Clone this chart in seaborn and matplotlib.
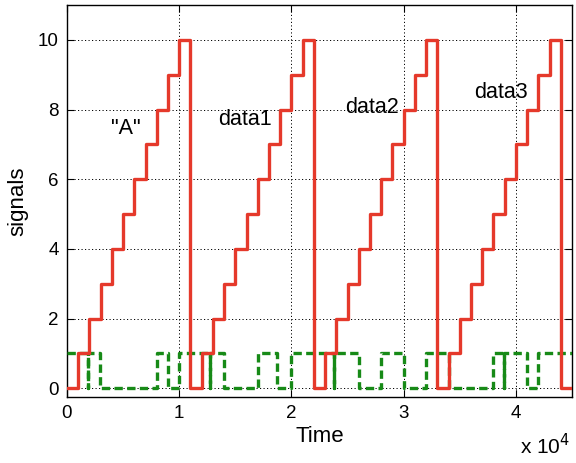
import matplotlib
matplotlib.use("Agg")
import matplotlib.pyplot as plt
import seaborn as sns
import pandas as pd
from matplotlib.ticker import FuncFormatter

# ---- data ----
red_times = [0, 1000, 2000, 3000, 4000, 5000, 6000, 7000, 8000, 9000, 10000,
             11000, 12000, 13000, 14000, 15000, 16000, 17000, 18000, 19000, 20000, 21000,
             22000, 23000, 24000, 25000, 26000, 27000, 28000, 29000, 30000, 31000, 32000,
             33000, 34000, 35000, 36000, 37000, 38000, 39000, 40000, 41000, 42000, 43000,
             44000, 45000]
red_values = [0, 1, 2, 3, 4, 5, 6, 7, 8, 9, 10,
              0, 1, 2, 3, 4, 5, 6, 7, 8, 9, 10,
              0, 1, 2, 3, 4, 5, 6, 7, 8, 9, 10,
              0, 1, 2, 3, 4, 5, 6, 7, 8, 9, 10,
              0, 0]

green_times = [0, 1880, 1880, 2900, 8000, 9000, 10000, 12700, 12700, 14000,
               17000, 18700, 20000, 23750, 23750, 26000, 28000, 30000, 32000,
               34000, 38000, 38900, 38900, 41000, 42000, 45000]
green_values = [1, 0, 1, 0, 1, 0, 1, 0, 1, 0,
                1, 0, 1, 0, 1, 0, 1, 0, 1,
                0, 1, 0, 1, 0, 1, 1]

labels = ['"A"', 'data1', 'data2', 'data3']
label_x = [5200, 15900, 27200, 38650]
label_y = [7.45, 7.7, 8.05, 8.5]

xticks = [0, 10000, 20000, 30000, 40000]
yticks = [0, 2, 4, 6, 8, 10]

# ---- style ----
sns.set_theme(style="white")
plt.rcParams['font.family'] = ['Liberation Sans', 'DejaVu Sans']

red_col = '#E5392B'
green_col = '#178A17'

fig = plt.figure(figsize=(5.76, 4.63), dpi=100)
ax = fig.add_axes([67/576, 1-397/463, (572-67)/576, (397-5)/463])

red_df = pd.DataFrame({'t': red_times, 'v': red_values})
green_df = pd.DataFrame({'t': green_times, 'v': green_values})

sns.lineplot(data=green_df, x='t', y='v', ax=ax, estimator=None, sort=False,
             drawstyle='steps-post', color=green_col, lw=2.4,
             linestyle=(0, (2.5, 1.3)), zorder=3)
sns.lineplot(data=red_df, x='t', y='v', ax=ax, estimator=None, sort=False,
             drawstyle='steps-post', color=red_col, lw=2.4, zorder=4)

ax.set_xlim(0, 45000)
ax.set_ylim(-0.25, 11)
ax.set_xticks(xticks)
ax.set_yticks(yticks)
ax.xaxis.set_major_formatter(FuncFormatter(lambda v, p: f"{v/1e4:g}"))

ax.grid(True, color='black', linestyle=(0, (1.2, 2.4)), lw=0.7)
for s in ax.spines.values():
    s.set_color('black')
    s.set_linewidth(1.0)
ax.tick_params(direction='in', length=5, width=0.8, top=True, right=True,
               bottom=True, left=True, labelsize=13.5, colors='black', pad=6)

ax.set_xlabel('Time', fontsize=16, labelpad=3, color='black')
ax.set_ylabel('signals', fontsize=16, labelpad=7, color='black')

for lab, x, y in zip(labels, label_x, label_y):
    ax.text(x, y, lab, fontsize=15.5, ha='center', va='center', color='black')

fig.text(545/576, 1-446/463, r'x 10$^4$', fontsize=15, ha='center', va='center',
         color='black')

fig.savefig('out.png', dpi=100)
